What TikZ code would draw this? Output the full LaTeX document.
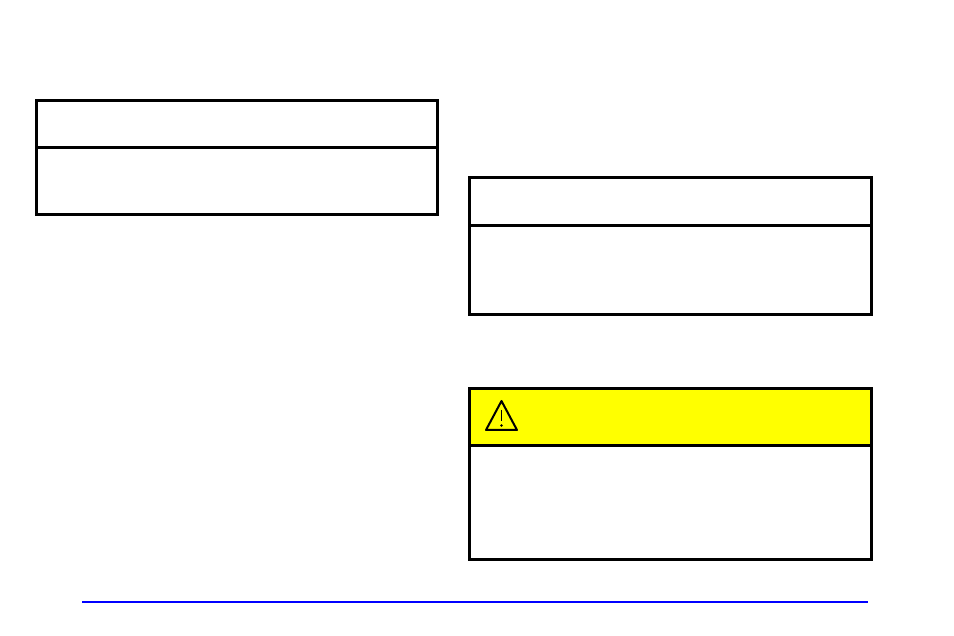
\documentclass[tikz,border=0pt]{standalone}
\usepackage{tikz}
\definecolor{cautionyellow}{RGB}{255,255,0}
\definecolor{rulebline}{RGB}{0,0,255}
\begin{document}
\begin{tikzpicture}[
            x = 1pt, y = -1pt, % pixel grid
            frame/.style = {draw=black, line width=3pt},
            semithick
        ]
\useasboundingbox (0,0) rectangle (954,636);

% left notice box
\node[frame, minimum width=401pt, minimum height=114pt, inner sep=0pt] (NL) at (236.5,158) {};
\draw[frame] (36,148) -- (437,148);

% right notice box
\node[frame, minimum width=402pt, minimum height=137pt, inner sep=0pt] (NR) at (670,246.5) {};
\draw[frame] (469,226) -- (871,226);

% caution box
\fill[cautionyellow] (469,389) rectangle (871,446);
\node[frame, minimum width=402pt, minimum height=170pt, inner sep=0pt] (CB) at (670,474) {};
\draw[frame] (469,446) -- (871,446);
\draw[line width=2pt, line join=round] (486,430) -- (501.5,401) -- (517,430) -- cycle;
\draw[line width=1.6pt] (501.5,410) -- (501.5,421);
\fill (501.5,425.5) circle (1.4pt);

% page rule
\draw[rulebline, line width=1.4pt] (82,602) -- (868,602);
\end{tikzpicture}
\end{document}
